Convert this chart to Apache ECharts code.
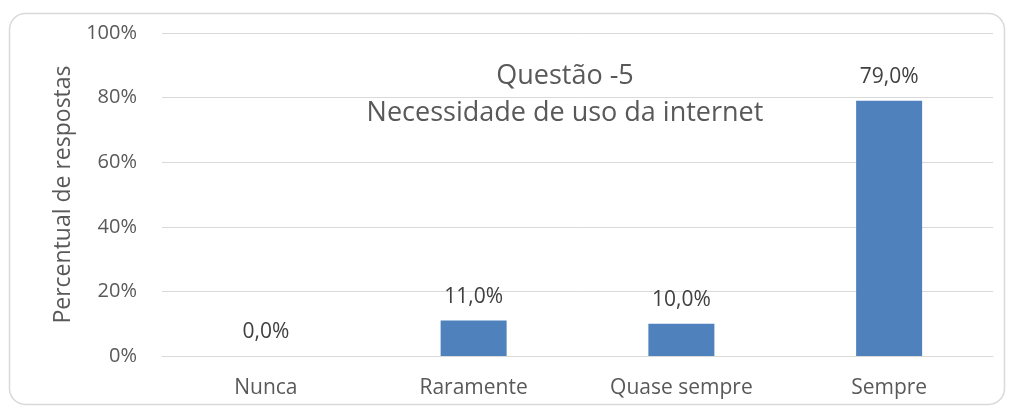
<!DOCTYPE html>
<html>
<head>
<meta charset="utf-8">
<script src="https://cdn.jsdelivr.net/npm/echarts@6/dist/echarts.min.js"></script>
<style>
  html, body { margin: 0; padding: 0; background: #fff; }
  #chart { width: 1010px; height: 409px; }
</style>
</head>
<body>
<div id="chart"></div>
<script>
// Frequência de uso da internet (percentual de respostas)
const categories = ['Nunca', 'Raramente', 'Quase sempre', 'Sempre'];
const values = [0.0, 11.0, 10.0, 79.0];
const yTicks = [0, 20, 40, 60, 80, 100];
const titleLines = ['Questão -5', 'Necessidade de uso da internet'];
const yAxisName = 'Percentual de respostas';

const FONT = '"Open Sans", "Noto Sans", sans-serif';
const chart = echarts.init(document.getElementById('chart'), null, { renderer: 'canvas' });

chart.setOption({
  animation: false,
  backgroundColor: '#ffffff',
  graphic: [{
    type: 'rect',
    shape: { x: 9.5, y: 13.5, width: 995, height: 391, r: 16 },
    style: { fill: 'none', stroke: '#d9d9d9', lineWidth: 1.5 },
    z: 0
  }],
  title: {
    text: titleLines.join('\n'),
    left: 560,
    top: 53,
    textAlign: 'center',
    textStyle: {
      fontFamily: FONT,
      fontSize: 27,
      fontWeight: 'normal',
      color: '#595959',
      lineHeight: 37
    }
  },
  grid: { left: 162, right: 17, top: 33, bottom: 53, containLabel: false },
  xAxis: {
    type: 'category',
    data: categories,
    axisLine: { show: true, lineStyle: { color: '#d9d9d9', width: 1 } },
    axisTick: { show: false },
    axisLabel: { fontFamily: FONT, fontSize: 21, color: '#595959', margin: 22 }
  },
  yAxis: {
    type: 'value',
    min: yTicks[0],
    max: yTicks[yTicks.length - 1],
    interval: 20,
    name: yAxisName,
    nameLocation: 'middle',
    nameGap: 87,
    nameRotate: 90,
    nameTextStyle: { fontFamily: FONT, fontSize: 23, color: '#595959' },
    axisLine: { show: false },
    axisTick: { show: false },
    splitLine: { lineStyle: { color: '#d9d9d9', width: 1 } },
    axisLabel: {
      fontFamily: FONT, fontSize: 20, color: '#595959', margin: 25,
      formatter: v => v + '%'
    }
  },
  series: [{
    type: 'bar',
    data: values,
    barWidth: 66,
    itemStyle: { color: '#4f81bd' },
    label: {
      show: true,
      position: 'top',
      distance: 13,
      fontFamily: FONT,
      fontSize: 21,
      color: '#404040',
      formatter: p => p.value.toFixed(1).replace('.', ',') + '%'
    }
  }]
});
</script>
</body>
</html>
